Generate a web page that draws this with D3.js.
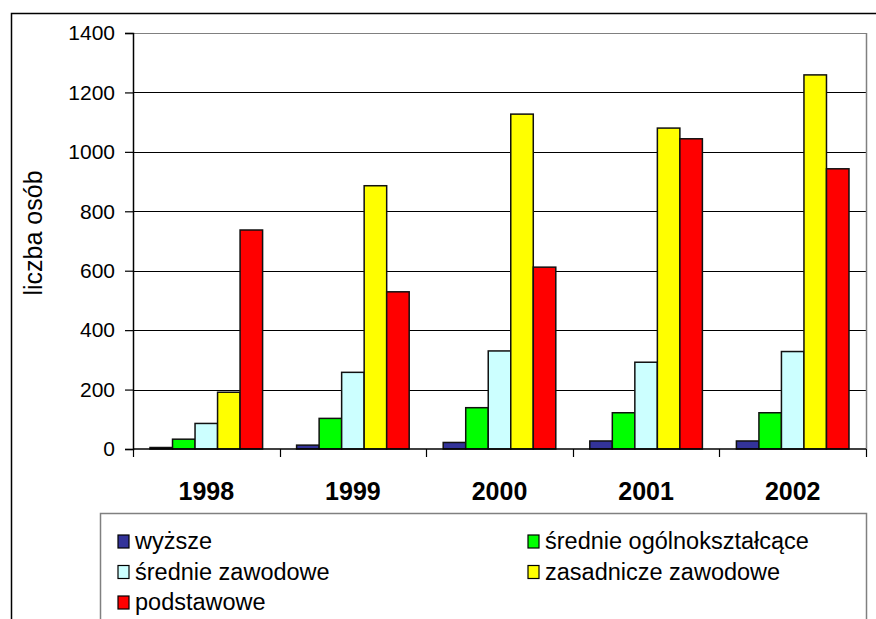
<!DOCTYPE html>
<html>
<head>
<meta charset="utf-8">
<script src="https://cdn.jsdelivr.net/npm/d3@7"></script>
<style>
  body { margin: 0; background: #fff; }
  svg { display: block; font-family: "Liberation Sans", Arial, sans-serif; }
</style>
</head>
<body>
<div id="chart"></div>
<script>
const years = ['1998', '1999', '2000', '2001', '2002'];
const seriesNames = ['wyższe', 'średnie ogólnokształcące', 'średnie zawodowe', 'zasadnicze zawodowe', 'podstawowe'];
const seriesColors = ['#333399', '#00ff00', '#ccffff', '#ffff00', '#ff0000'];
const wyzsze = [5, 13, 22, 27, 27];
const srednieOgolne = [33, 103, 139, 122, 122];
const srednieZawodowe = [86, 258, 330, 292, 328];
const zasadnicze = [191, 886, 1127, 1080, 1259];
const podstawowe = [737, 529, 612, 1044, 943];
const yTicks = [0, 200, 400, 600, 800, 1000, 1200, 1400];

const seriesValues = [wyzsze, srednieOgolne, srednieZawodowe, zasadnicze, podstawowe];

const W = 876, H = 619;
const plot = { left: 133, top: 33, right: 866, bottom: 449 };

const svg = d3.select('#chart').append('svg')
  .attr('width', W).attr('height', H);

// outer chart frame
svg.append('path')
  .attr('d', `M11.5,${H + 2} V13.5 H${W + 2}`)
  .attr('fill', 'none').attr('stroke', '#000').attr('stroke-width', 1.5);

const y = d3.scaleLinear().domain([0, 1400]).range([plot.bottom, plot.top]);
const x0 = d3.scaleBand().domain(years).range([plot.left, plot.right])
  .paddingInner(0.232).paddingOuter(0.116);
const x1 = d3.scaleBand().domain(seriesNames).range([0, x0.bandwidth()]);

// gridlines
svg.append('g').selectAll('line').data(yTicks.slice(1)).join('line')
  .attr('x1', plot.left).attr('x2', plot.right)
  .attr('y1', d => Math.round(y(d)) + 0.5).attr('y2', d => Math.round(y(d)) + 0.5)
  .attr('stroke', d => d === 1400 ? '#808080' : '#000').attr('stroke-width', 1);

// right gray border
svg.append('line')
  .attr('x1', plot.right + 0.5).attr('x2', plot.right + 0.5)
  .attr('y1', plot.top).attr('y2', plot.bottom)
  .attr('stroke', '#808080').attr('stroke-width', 1.5);

// bars
const groups = svg.append('g').selectAll('g').data(years).join('g')
  .attr('transform', d => `translate(${x0(d)},0)`);
groups.selectAll('rect')
  .data((yr, i) => seriesNames.map((s, j) => ({ s, j, v: seriesValues[j][i] })))
  .join('rect')
  .attr('x', d => x1(d.s))
  .attr('width', x1.bandwidth())
  .attr('y', d => y(d.v))
  .attr('height', d => plot.bottom - y(d.v))
  .attr('fill', d => seriesColors[d.j])
  .attr('stroke', '#111').attr('stroke-width', 1.5);

// y axis
const yAxis = svg.append('g')
  .attr('transform', `translate(${plot.left},0)`)
  .call(d3.axisLeft(y).tickValues(yTicks).tickSize(8).tickPadding(10).tickFormat(d3.format('d')));
yAxis.select('.domain').attr('stroke-width', 1.5);
yAxis.selectAll('.tick line').attr('stroke-width', 1.2);
yAxis.selectAll('text').attr('font-size', 21).attr('fill', '#000');

// x axis: ticks at group boundaries
const xAxis = svg.append('g')
  .attr('transform', `translate(0,${plot.bottom})`);
xAxis.append('line')
  .attr('x1', plot.left).attr('x2', plot.right)
  .attr('stroke', '#000').attr('stroke-width', 1.5);
const bounds = years.map(d => x0(d) - x0.step() * x0.paddingOuter()).concat([plot.right]);
xAxis.selectAll('.xt').data(bounds).join('line')
  .attr('class', 'xt')
  .attr('x1', d => Math.round(d) + 0.5).attr('x2', d => Math.round(d) + 0.5)
  .attr('y1', 0).attr('y2', 8)
  .attr('stroke', '#000').attr('stroke-width', 1.2);
xAxis.selectAll('text').data(years).join('text')
  .attr('x', d => x0(d) + x0.bandwidth() / 2)
  .attr('y', 51)
  .attr('text-anchor', 'middle')
  .attr('font-size', 25).attr('font-weight', 'bold')
  .text(d => d);

// y axis title
svg.append('text')
  .attr('transform', `translate(42,233) rotate(-90)`)
  .attr('text-anchor', 'middle')
  .attr('font-size', 25)
  .text('liczba osób');

// legend
const lg = svg.append('g');
lg.append('rect')
  .attr('x', 100.5).attr('y', 513.5).attr('width', 766).attr('height', 120)
  .attr('fill', '#fff').attr('stroke', '#808080').attr('stroke-width', 1.5);
const items = lg.selectAll('g').data(seriesNames).join('g')
  .attr('transform', (d, i) => `translate(${i % 2 ? 528 : 118},${541 + Math.floor(i / 2) * 30.5})`);
items.append('rect')
  .attr('x', 0).attr('y', -6).attr('width', 11).attr('height', 13)
  .attr('fill', (d, i) => seriesColors[i]).attr('stroke', '#000').attr('stroke-width', 1.2);
items.append('text')
  .attr('x', 17).attr('y', 0).attr('dy', '0.36em')
  .attr('font-size', 23.5)
  .text(d => d);
</script>
</body>
</html>
